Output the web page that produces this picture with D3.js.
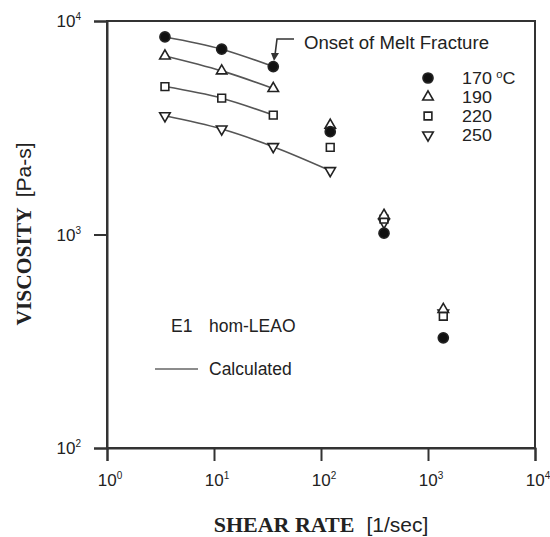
<!DOCTYPE html>
<html>
<head>
<meta charset="utf-8">
<script src="https://cdn.jsdelivr.net/npm/d3@7"></script>
<style>
  body { margin: 0; background: #fff; }
  svg { display: block; }
  text { font-family: "Liberation Sans", Arial, sans-serif; fill: #222; }
</style>
</head>
<body>
<svg id="chart" width="550" height="537"></svg>
<script>
// ---- Data ----
const shearRate = [3.48, 11.8, 35.8, 122, 388, 1390];
const v170 = [8420, 7380, 6115, 3030, 1014, 328];
const v190 = [6860, 5840, 4830, 3250, 1230, 446];
const v220 = [4930, 4350, 3625, 2558, 1180, 414];
const v250 = [3597, 3118, 2578, 1991, 1140, 428];
const seriesNames = ["170", "190", "220", "250"];
const calcCounts = [3, 3, 3, 4];          // points covered by the "Calculated" curve
const xTickExps = [0, 1, 2, 3, 4];
const yTickExps = [2, 3, 4];

const svg = d3.select("#chart");
const mLeft = 107, mRight = 535, mTop = 21, mBottom = 448;

const x = d3.scaleLog().domain([1, 1e4]).range([mLeft, mRight]);
const y = d3.scaleLog().domain([100, 1e4]).range([mBottom, mTop]);

const axisColor = "#333";

// frame
svg.append("rect").attr("x", mLeft).attr("y", mTop)
  .attr("width", mRight - mLeft).attr("height", mBottom - mTop)
  .attr("fill", "none").attr("stroke", axisColor).attr("stroke-width", 2);

// axes with D3
const xAxis = d3.axisBottom(x).tickValues(xTickExps.map(e => Math.pow(10, e))).tickSize(13).tickFormat("");
const gx = svg.append("g").attr("transform", `translate(0,${mBottom})`).call(xAxis);
const yAxis = d3.axisLeft(y).tickValues(yTickExps.map(e => Math.pow(10, e))).tickSize(13).tickFormat("");
const gy = svg.append("g").attr("transform", `translate(${mLeft},0)`).call(yAxis);
[gx, gy].forEach(g => {
  g.select(".domain").attr("stroke", axisColor).attr("stroke-width", 2);
  g.selectAll(".tick line").attr("stroke", axisColor).attr("stroke-width", 2);
});

// tick labels with superscripts
xTickExps.forEach(e => {
  const t = svg.append("text").attr("x", x(Math.pow(10, e)) + 3).attr("y", 486)
    .attr("text-anchor", "middle").attr("font-size", 17);
  t.append("tspan").text("10");
  t.append("tspan").attr("dy", -7).attr("font-size", 10).text(e);
});
yTickExps.forEach(e => {
  const t = svg.append("text").attr("x", 81).attr("y", y(Math.pow(10, e)) + 6)
    .attr("text-anchor", "end").attr("font-size", 17);
  t.append("tspan").text("10");
  t.append("tspan").attr("dy", -7).attr("font-size", 10).text(e);
});

// axis titles
const xt = svg.append("text").attr("x", 321).attr("y", 532).attr("text-anchor", "middle");
xt.append("tspan").attr("font-family", "'Liberation Serif', 'Times New Roman', serif")
  .attr("font-weight", "bold").attr("font-size", 22).text("SHEAR RATE");
xt.append("tspan").attr("font-size", 21).attr("dx", 12).text("[1/sec]");

const yt = svg.append("text").attr("transform", "translate(31,234) rotate(-90)").attr("text-anchor", "middle");
yt.append("tspan").attr("font-family", "'Liberation Serif', 'Times New Roman', serif")
  .attr("font-weight", "bold").attr("font-size", 21.5).text("VISCOSITY");
yt.append("tspan").attr("font-size", 21).attr("dx", 10).text("[Pa-s]");

// series
const allSeries = [v170, v190, v220, v250];
const symbolTypes = [d3.symbolCircle, d3.symbolTriangle, d3.symbolSquare, d3.symbolTriangle];
const symbolSizes = [80, 48, 60, 48];
const rotations = [0, 0, 0, 180];
const filled = [true, false, false, false];

// calculated curves
const line = d3.line().x(d => x(d[0])).y(d => y(d[1])).curve(d3.curveMonotoneX);
allSeries.forEach((vals, i) => {
  const pts = shearRate.slice(0, calcCounts[i]).map((r, j) => [r, vals[j]]);
  svg.append("path").attr("d", line(pts)).attr("fill", "none")
    .attr("stroke", "#555").attr("stroke-width", 1.6);
});

function drawSymbol(g, i, cx, cy) {
  g.append("path")
    .attr("d", d3.symbol().type(symbolTypes[i]).size(symbolSizes[i])())
    .attr("transform", `translate(${cx},${cy}) rotate(${rotations[i]})`)
    .attr("fill", filled[i] ? "#111" : "#fff")
    .attr("stroke", "#222").attr("stroke-width", 1.6);
}

// draw in order so filled circles sit on top near clusters
[3, 2, 1, 0].forEach(i => {
  const g = svg.append("g");
  allSeries[i].forEach((v, j) => drawSymbol(g, i, x(shearRate[j]), y(v)));
});

// legend
const legY = [78, 97, 116, 135];
seriesNames.forEach((n, i) => {
  drawSymbol(svg, i, 428, legY[i]);
  const t = svg.append("text").attr("transform", `translate(462,${legY[i] + 6}) scale(1.12,1)`)
    .attr("font-size", 16);
  t.append("tspan").text(n);
  if (i === 0) {
    t.append("tspan").attr("dx", 4).attr("dy", -6).attr("font-size", 10).text("o");
    t.append("tspan").attr("dy", 6).text("C");
  }
});

// annotation: onset of melt fracture
svg.append("text").attr("x", 304).attr("y", 49).attr("font-size", 17.5)
  .attr("textLength", 185).attr("lengthAdjust", "spacingAndGlyphs").text("Onset of Melt Fracture");
svg.append("path").attr("d", "M294,39 L277,39 L275,55")
  .attr("fill", "none").attr("stroke", "#333").attr("stroke-width", 1.6);
svg.append("path").attr("d", "M271,53 L279,53 L274,61 Z").attr("fill", "#333");

// sample labels
svg.append("text").attr("x", 171).attr("y", 332).attr("font-size", 17.5).text("E1");
svg.append("text").attr("x", 209).attr("y", 332).attr("font-size", 17.5).text("hom-LEAO");
svg.append("line").attr("x1", 155).attr("x2", 198).attr("y1", 369).attr("y2", 369)
  .attr("stroke", "#666").attr("stroke-width", 1.5);
svg.append("text").attr("x", 209).attr("y", 375).attr("font-size", 17.5).text("Calculated");
</script>
</body>
</html>
